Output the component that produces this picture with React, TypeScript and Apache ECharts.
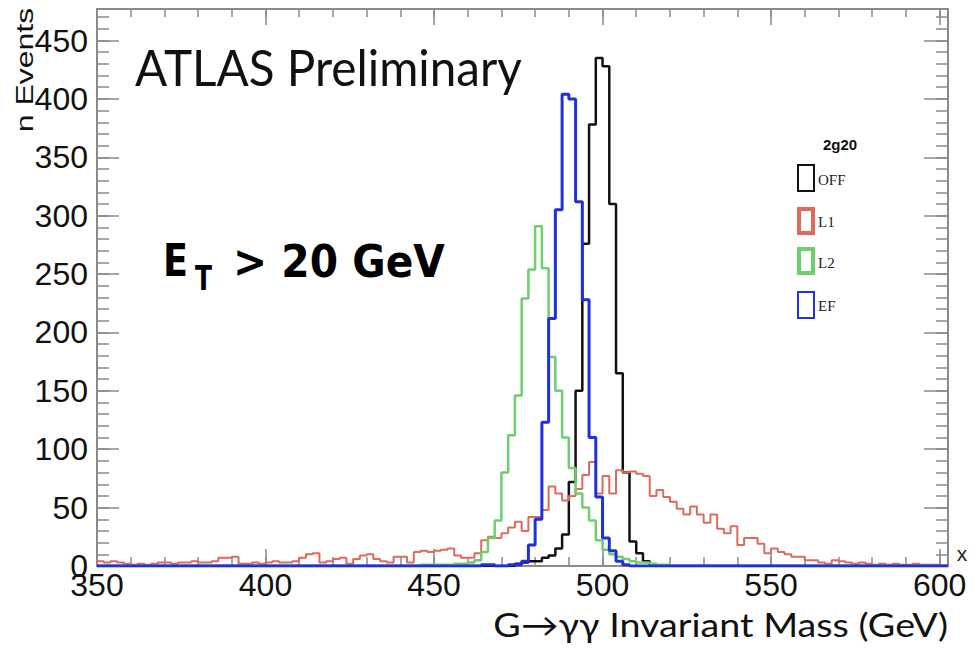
import React, { useEffect, useRef } from "react";
import * as echarts from "echarts";

// ---- histogram binning (GeV) ----
const BIN_START = 350;
const BIN_WIDTH = 2;
const X_MIN = 350;
const X_MAX = 602.5;
const Y_MIN = 0;
const Y_MAX = 477;
const MAJOR_X = 50;
const MINOR_X = 10;
const MAJOR_Y = 50;
const MINOR_Y = 10;

// ---- counts per 2 GeV bin, from 350 to 598 GeV (125 bins) ----
const offCounts = [
  0, 0, 0, 0, 0, 0, 0, 0, 0, 0,
  0, 0, 0, 0, 0, 0, 0, 0, 0, 0,
  0, 0, 0, 0, 0, 0, 0, 0, 0, 0,
  0, 0, 0, 0, 0, 0, 0, 0, 0, 0,
  0, 0, 0, 0, 0, 0, 0, 0, 0, 0,
  0, 0, 0, 0, 0, 0, 0, 0, 0, 0,
  0, 0, 2, 3, 4, 4, 7, 9, 15, 27,
  72, 150, 276, 378, 435, 428, 310, 165, 80, 21,
  11, 4, 1, 0, 0, 0, 0, 0, 0, 0,
  0, 0, 0, 0, 0, 0, 0, 0, 0, 0,
  0, 0, 0, 0, 0, 0, 0, 0, 0, 0,
  0, 0, 0, 0, 0, 0, 0, 0, 0, 0,
  0, 0, 0, 0, 0,
];

const l1Counts = [
  4, 3, 4, 3, 2, 1, 2, 1, 2, 3,
  3, 2, 3, 3, 4, 3, 3, 4, 7, 7,
  8, 2, 2, 3, 2, 3, 4, 3, 3, 4,
  7, 10, 11, 3, 4, 6, 7, 2, 6, 9,
  10, 6, 4, 3, 8, 8, 3, 12, 13, 12,
  13, 14, 15, 9, 7, 7, 11, 22, 25, 24,
  28, 33, 38, 30, 42, 42, 48, 68, 62, 56,
  60, 66, 78, 89, 62, 77, 62, 82, 80, 81,
  79, 77, 60, 65, 59, 55, 49, 44, 51, 44,
  37, 44, 32, 28, 34, 18, 24, 24, 19, 11,
  15, 12, 10, 8, 8, 5, 5, 3, 2, 5,
  4, 3, 2, 3, 2, 1, 2, 1, 2, 1,
  1, 2, 1, 1, 1,
];

const l2Counts = [
  0, 0, 0, 0, 0, 0, 0, 0, 0, 0,
  0, 0, 0, 0, 0, 0, 0, 0, 0, 0,
  0, 0, 0, 0, 0, 0, 0, 0, 0, 0,
  0, 0, 0, 0, 0, 0, 0, 0, 0, 0,
  0, 0, 0, 0, 0, 0, 0, 0, 1, 1,
  1, 1, 1, 2, 2, 3, 5, 12, 24, 39,
  80, 112, 146, 229, 254, 291, 255, 179, 150, 110,
  84, 62, 50, 39, 22, 14, 10, 8, 6, 4,
  3, 3, 2, 1, 1, 0, 0, 0, 0, 0,
  0, 0, 0, 0, 0, 0, 0, 0, 0, 0,
  0, 0, 0, 0, 0, 0, 0, 0, 0, 0,
  0, 0, 0, 0, 0, 0, 0, 0, 0, 0,
  0, 0, 0, 0, 0,
];

const efCounts = [
  0, 0, 0, 0, 0, 0, 0, 0, 0, 0,
  0, 0, 0, 0, 0, 0, 0, 0, 0, 0,
  0, 0, 0, 0, 0, 0, 0, 0, 0, 0,
  0, 0, 0, 0, 0, 0, 0, 0, 0, 0,
  0, 0, 0, 0, 0, 0, 0, 0, 0, 0,
  0, 0, 0, 0, 0, 0, 0, 1, 1, 0,
  0, 1, 1, 4, 18, 40, 123, 212, 305, 404,
  400, 312, 228, 110, 59, 24, 13, 4, 1, 0,
  0, 0, 0, 0, 0, 0, 0, 0, 0, 0,
  0, 0, 0, 0, 0, 0, 0, 0, 0, 0,
  0, 0, 0, 0, 0, 0, 0, 0, 0, 0,
  0, 0, 0, 0, 0, 0, 0, 0, 0, 0,
  0, 0, 0, 0, 0,
];

const seriesNames = ["OFF", "L1", "L2", "EF"];
const seriesColors = ["#111111", "#de6a5c", "#6dd06d", "#1f30dc"];
const seriesWidths = [2.5, 2, 2.5, 3];
const legendBorder = [2, 4, 4, 2];
const legendTitle = "2g20";
const atlasLabel = "ATLAS Preliminary";
const cutLabelMain = "E";
const cutLabelSub = "T";
const cutLabelRest = "> 20 GeV";
const xTitle = "G\u2192\u03b3\u03b3 Invariant Mass (GeV)";
const yTitle = "n Events";

const SANS = '"Liberation Sans", Arial, Helvetica, sans-serif';
const HUMANIST = 'Lato, "DejaVu Sans", sans-serif';
const BOLD = '"DejaVu Sans", Verdana, sans-serif';
const SERIF = '"Liberation Serif", "Times New Roman", serif';
const FRAME = "#8a8a8a";

function measure(text: string, font: string): number {
  const c = document.createElement("canvas");
  const ctx = c.getContext("2d");
  if (!ctx) return 1;
  ctx.font = font;
  return ctx.measureText(text).width || 1;
}

function histData(counts: number[]) {
  const pts: number[][] = counts.map((c, i) => [BIN_START + i * BIN_WIDTH, c]);
  const end = BIN_START + counts.length * BIN_WIDTH;
  pts.push([end, 0]);
  pts.push([X_MAX, 0]);
  return pts;
}

export default function App() {
  const ref = useRef<HTMLDivElement>(null);

  useEffect(() => {
    if (!ref.current) return;
    const chart = echarts.init(ref.current, undefined, { renderer: "svg" });

    const allCounts = [offCounts, l1Counts, l2Counts, efCounts];
    const series = allCounts.map((counts, k) => ({
      type: "line",
      name: seriesNames[k],
      step: "end",
      symbol: "none",
      showSymbol: false,
      xAxisIndex: 0,
      yAxisIndex: 0,
      data: histData(counts),
      lineStyle: { color: seriesColors[k], width: seriesWidths[k] },
      itemStyle: { color: seriesColors[k] },
      emphasis: { disabled: true },
      z: 3 + k,
    }));

    const baseX = {
      type: "value",
      min: X_MIN,
      max: X_MAX,
      splitLine: { show: false },
    };
    const baseY = {
      type: "value",
      min: Y_MIN,
      max: Y_MAX,
      splitLine: { show: false },
    };
    const tickStyle = { color: FRAME, width: 1.5 };

    const xAxes = [
      {
        ...baseX,
        position: "bottom",
        interval: MAJOR_X,
        axisLine: { show: true, onZero: false, lineStyle: { color: FRAME, width: 2 } },
        axisTick: { show: true, inside: true, length: 17, lineStyle: tickStyle },
        axisLabel: {
          show: true,
          showMaxLabel: false,
          fontSize: 32,
          fontFamily: SANS,
          color: "#111",
          margin: 3,
        },
      },
      {
        ...baseX,
        position: "bottom",
        interval: MINOR_X,
        axisLine: { show: false, onZero: false },
        axisTick: { show: true, inside: true, length: 9, lineStyle: tickStyle },
        axisLabel: { show: false },
      },
      {
        ...baseX,
        position: "top",
        interval: MAJOR_X,
        axisLine: { show: true, onZero: false, lineStyle: { color: FRAME, width: 2 } },
        axisTick: { show: true, inside: true, length: 16, lineStyle: tickStyle },
        axisLabel: { show: false },
      },
      {
        ...baseX,
        position: "top",
        interval: MINOR_X,
        axisLine: { show: false, onZero: false },
        axisTick: { show: true, inside: true, length: 8, lineStyle: tickStyle },
        axisLabel: { show: false },
      },
    ];

    const yAxes = [
      {
        ...baseY,
        position: "left",
        interval: MAJOR_Y,
        axisLine: { show: true, onZero: false, lineStyle: { color: FRAME, width: 2 } },
        axisTick: { show: true, inside: true, length: 22, lineStyle: tickStyle },
        axisLabel: {
          show: true,
          showMaxLabel: false,
          fontSize: 32,
          fontFamily: SANS,
          color: "#111",
          margin: 9,
        },
      },
      {
        ...baseY,
        position: "left",
        interval: MINOR_Y,
        axisLine: { show: false, onZero: false },
        axisTick: { show: true, inside: true, length: 12, lineStyle: tickStyle },
        axisLabel: { show: false },
      },
      {
        ...baseY,
        position: "right",
        interval: MAJOR_Y,
        axisLine: { show: true, onZero: false, lineStyle: { color: FRAME, width: 2 } },
        axisTick: { show: true, inside: true, length: 24, lineStyle: tickStyle },
        axisLabel: { show: false },
      },
      {
        ...baseY,
        position: "right",
        interval: MINOR_Y,
        axisLine: { show: false, onZero: false },
        axisTick: { show: true, inside: true, length: 12, lineStyle: tickStyle },
        axisLabel: { show: false },
      },
    ];

    // text fitting
    const atlasFont = `normal 50px ${HUMANIST}`;
    const atlasScale = 387 / measure(atlasLabel, atlasFont);
    const xTitleFont = `normal 33px ${HUMANIST}`;
    const xTitleScale = 455 / measure(xTitle, xTitleFont);
    const eFont = `bold 45px ${BOLD}`;
    const eScale = 25 / measure(cutLabelMain, eFont);
    const restScale = 212 / measure(cutLabelRest, eFont);
    const tFont = `bold 33px ${BOLD}`;
    const tScale = 17 / measure(cutLabelSub, tFont);

    const legendY = [164, 207, 247, 291];
    const legendTextY = [180, 222, 263, 306];

    const graphic: any[] = [
      {
        type: "text",
        x: 25,
        y: 70,
        rotation: Math.PI / 2,
        scaleY: 0.75,
        style: {
          text: yTitle,
          fontSize: 32,
          fontFamily: SANS,
          fill: "#111",
          align: "center",
          verticalAlign: "middle",
        },
      },
      {
        type: "text",
        x: 135,
        y: 67,
        scaleX: atlasScale,
        style: {
          text: atlasLabel,
          fontSize: 50,
          fontFamily: HUMANIST,
          fill: "#111",
          align: "left",
          verticalAlign: "middle",
        },
      },
      {
        type: "text",
        x: 163,
        y: 261,
        scaleX: eScale,
        style: {
          text: cutLabelMain,
          fontSize: 45,
          fontWeight: "bold",
          fontFamily: BOLD,
          fill: "#000",
          align: "left",
          verticalAlign: "middle",
        },
      },
      {
        type: "text",
        x: 195,
        y: 279,
        scaleX: tScale,
        style: {
          text: cutLabelSub,
          fontSize: 33,
          fontWeight: "bold",
          fontFamily: BOLD,
          fill: "#000",
          align: "left",
          verticalAlign: "middle",
        },
      },
      {
        type: "text",
        x: 233,
        y: 261,
        scaleX: restScale,
        style: {
          text: cutLabelRest,
          fontSize: 45,
          fontWeight: "bold",
          fontFamily: BOLD,
          fill: "#000",
          align: "left",
          verticalAlign: "middle",
        },
      },
      {
        type: "text",
        x: 948,
        y: 624,
        scaleX: xTitleScale,
        style: {
          text: xTitle,
          fontSize: 33,
          fontFamily: HUMANIST,
          fill: "#111",
          align: "right",
          verticalAlign: "middle",
        },
      },
      {
        type: "text",
        x: 962,
        y: 553,
        style: {
          text: "x",
          fontSize: 21,
          fontFamily: SANS,
          fill: "#222",
          align: "center",
          verticalAlign: "middle",
        },
      },
      {
        type: "text",
        x: 823,
        y: 144,
        style: {
          text: legendTitle,
          fontSize: 15,
          fontWeight: "bold",
          fontFamily: SANS,
          fill: "#111",
          align: "left",
          verticalAlign: "middle",
        },
      },
    ];

    seriesNames.forEach((name, k) => {
      const bw = legendBorder[k];
      graphic.push({
        type: "rect",
        shape: { x: 797 + bw / 2, y: legendY[k] + bw / 2, width: 18 - bw, height: 28 - bw },
        style: { fill: "none", stroke: seriesColors[k], lineWidth: bw },
      });
      graphic.push({
        type: "text",
        x: 818,
        y: legendTextY[k],
        style: {
          text: name,
          fontSize: 15,
          fontFamily: SERIF,
          fill: "#222",
          align: "left",
          verticalAlign: "middle",
        },
      });
    });

    chart.setOption({
      animation: false,
      backgroundColor: "#ffffff",
      grid: { left: 97, right: 30, top: 9, bottom: 82, containLabel: false },
      xAxis: xAxes,
      yAxis: yAxes,
      series,
      graphic,
    });

    return () => chart.dispose();
  }, []);

  return (
    <div
      ref={ref}
      style={{ position: "absolute", left: 0, top: 0, width: 978, height: 648, background: "#fff" }}
    />
  );
}
